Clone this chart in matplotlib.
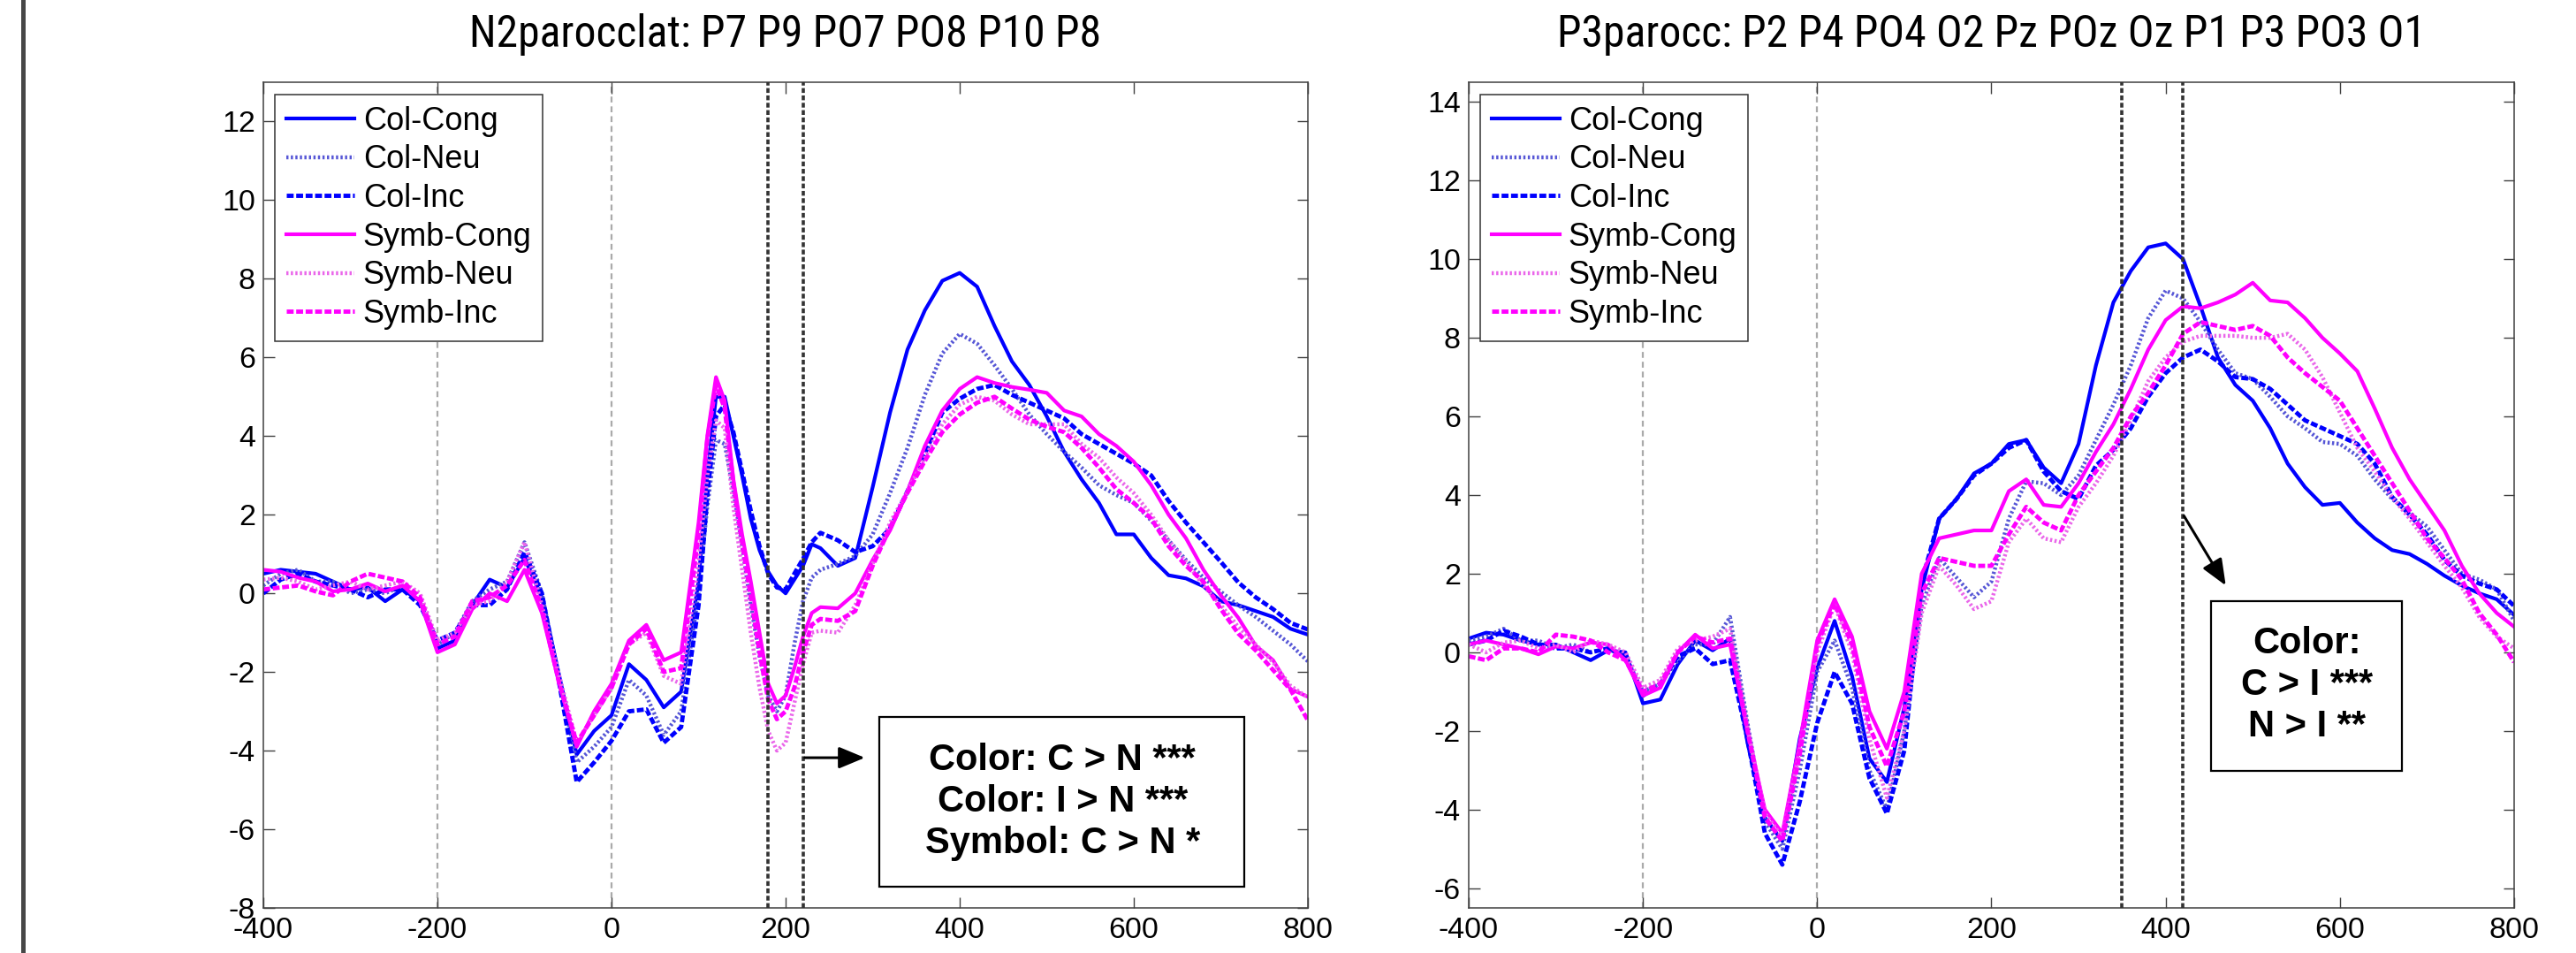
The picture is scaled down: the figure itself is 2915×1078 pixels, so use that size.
import matplotlib
matplotlib.use("Agg")
import matplotlib.pyplot as plt
from matplotlib import font_manager as fm
from matplotlib.font_manager import FontProperties
from matplotlib.lines import Line2D
from matplotlib.patches import Rectangle

plt.rcParams["font.family"] = ["Liberation Sans", "DejaVu Sans"]
plt.rcParams["axes.unicode_minus"] = False

# ----------------------------------------------------------------------
# data (ms, microvolts)
# ----------------------------------------------------------------------
LABELS = ["Col-Cong", "Col-Neu", "Col-Inc", "Symb-Cong", "Symb-Neu", "Symb-Inc"]

T1 = [-400, -380, -360, -340, -320, -300, -280, -260, -240, -220, -200, -180, -160,
      -140, -120, -100, -80, -60, -40, -20, 0, 20, 40, 60, 80, 100,
      110, 120, 130, 140, 150, 160, 170, 180, 190, 200, 210, 220, 230, 240,
      260, 280, 300, 320, 340, 360, 380, 400, 420, 440, 460, 480, 500, 520,
      540, 560, 580, 600, 620, 640, 660, 680, 700, 720, 740, 760, 780, 800]

p1_col_cong = [0.5, 0.6, 0.55, 0.5, 0.3, 0.1, 0.15, -0.2, 0.1, -0.2, -1.4, -1.2, -0.3,
               0.35, 0.15, 0.9, -0.1, -2.1, -4.1, -3.5, -3.1, -1.8, -2.2, -2.9, -2.5, 0.3,
               3.0, 5.0, 5.0, 4.0, 3.0, 1.9, 1.1, 0.55, 0.2, 0.0, 0.35, 0.7, 1.25, 1.15,
               0.7, 0.9, 2.7, 4.6, 6.2, 7.2, 7.95, 8.15, 7.8, 6.8, 5.9, 5.3, 4.5, 3.6,
               2.9, 2.3, 1.5, 1.5, 0.9, 0.46, 0.38, 0.18, -0.2, -0.3, -0.45, -0.6, -0.9, -1.05]
p1_col_neu = [0.2, 0.5, 0.6, 0.3, 0.3, 0.0, 0.1, 0.0, 0.2, -0.2, -1.3, -1.0, -0.2,
              0.1, 0.3, 1.3, 0.0, -2.2, -4.3, -3.9, -3.4, -2.2, -2.6, -3.6, -3.0, 0.0,
              2.2, 3.9, 3.8, 2.6, 1.2, -0.3, -1.6, -2.6, -3.0, -2.6, -1.3, -0.2, 0.4, 0.6,
              0.75, 0.95, 1.5, 2.55, 3.7, 5.05, 6.1, 6.6, 6.35, 5.8, 5.2, 4.55, 4.05, 3.6,
              3.2, 2.75, 2.5, 2.3, 1.85, 1.35, 0.85, 0.4, 0.04, -0.3, -0.6, -0.95, -1.3, -1.73]
p1_col_inc = [0.0, 0.35, 0.5, 0.3, 0.2, 0.1, -0.1, 0.1, 0.1, -0.3, -1.2, -1.0, -0.3,
              -0.3, 0.1, 1.05, 0.0, -2.3, -4.8, -4.3, -3.75, -3.0, -2.95, -3.8, -3.4, -0.3,
              2.5, 4.5, 4.8, 4.1, 3.1, 2.1, 1.2, 0.5, 0.15, 0.1, 0.5, 0.88, 1.3, 1.54,
              1.35, 1.05, 1.2, 1.65, 2.6, 3.55, 4.6, 4.95, 5.2, 5.3, 5.05, 4.85, 4.65, 4.45,
              4.05, 3.8, 3.55, 3.3, 3.0, 2.35, 1.8, 1.3, 0.8, 0.28, -0.1, -0.4, -0.75, -0.92]
p1_symb_cong = [0.6, 0.55, 0.4, 0.3, 0.05, 0.1, 0.25, 0.05, 0.2, -0.2, -1.5, -1.3, -0.4,
                0.0, -0.2, 0.6, -0.5, -2.3, -3.9, -3.0, -2.3, -1.2, -0.8, -1.7, -1.5, 1.8,
                4.0, 5.5, 4.9, 2.9, 1.5, 0.3, -1.0, -2.3, -2.8, -2.6, -1.9, -1.1, -0.5, -0.35,
                -0.38, 0.0, 0.85, 1.6, 2.6, 3.75, 4.65, 5.2, 5.5, 5.35, 5.25, 5.18, 5.1, 4.65,
                4.5, 4.05, 3.75, 3.35, 2.75, 2.0, 1.4, 0.6, -0.05, -0.62, -1.33, -1.7, -2.43, -2.63]
p1_symb_neu = [0.35, 0.4, 0.3, 0.1, 0.2, 0.3, 0.1, 0.2, 0.3, 0.0, -1.2, -1.0, -0.3,
               -0.2, 0.3, 1.3, -0.3, -2.1, -3.8, -3.1, -2.4, -1.3, -1.0, -2.1, -2.3, 0.8,
               3.0, 4.4, 4.2, 2.2, 0.6, -1.0, -2.4, -3.5, -4.0, -3.8, -2.8, -1.8, -1.0, -0.95,
               -1.0, -0.3, 0.75, 1.8, 2.6, 3.45, 4.3, 4.8, 5.0, 4.9, 4.55, 4.3, 4.3, 4.3,
               3.8, 3.45, 2.95, 2.55, 2.0, 1.35, 0.8, 0.2, -0.3, -0.85, -1.3, -1.75, -2.35, -2.65]
p1_symb_inc = [0.1, 0.15, 0.2, 0.05, -0.05, 0.3, 0.5, 0.4, 0.3, -0.1, -1.3, -1.1, -0.2,
               -0.1, 0.2, 0.85, -0.4, -2.3, -3.8, -3.1, -2.4, -1.3, -0.9, -2.0, -1.9, 1.5,
               3.9, 5.3, 4.7, 2.8, 1.3, -0.1, -1.5, -2.7, -3.2, -3.0, -2.4, -1.5, -0.8, -0.65,
               -0.7, -0.45, 0.7, 1.68, 2.56, 3.37, 4.1, 4.55, 4.85, 5.0, 4.7, 4.42, 4.24, 4.1,
               3.7, 3.2, 2.65, 2.3, 1.9, 1.2, 0.7, 0.3, -0.4, -1.02, -1.45, -1.95, -2.45, -3.23]

T2 = [-400, -380, -360, -340, -320, -300, -280, -260, -240, -220, -200, -180, -160,
      -140, -120, -100, -80, -60, -40, -20, 0, 20, 40, 60, 80, 100, 120, 140, 160,
      180, 200, 220, 240, 260, 280, 300, 320, 340, 360, 380, 400, 420, 440, 460,
      480, 500, 520, 540, 560, 580, 600, 620, 640, 660, 680, 700, 720, 740, 760,
      780, 800]

p2_col_cong = [0.35, 0.5, 0.45, 0.3, 0.2, 0.2, 0.0, -0.2, 0.05, 0.0, -1.3, -1.2, -0.3,
               0.3, 0.05, 0.35, -2.3, -4.2, -4.8, -2.2, -0.4, 0.8, -0.6, -2.7, -3.3, -1.4,
               1.6, 3.4, 3.9, 4.55, 4.8, 5.3, 5.4, 4.7, 4.3, 5.3, 7.3, 8.9, 9.7, 10.3,
               10.4, 10.0, 8.8, 7.5, 6.8, 6.4, 5.7, 4.8, 4.2, 3.75, 3.8, 3.3, 2.9, 2.6,
               2.5, 2.25, 1.95, 1.7, 1.5, 1.35, 0.95]
p2_col_neu = [0.3, 0.4, 0.6, 0.3, 0.3, 0.1, 0.2, 0.0, 0.1, -0.1, -1.0, -0.8, -0.2,
              0.2, 0.2, 0.9, -1.8, -4.3, -5.0, -3.0, -0.5, 0.3, -0.9, -3.0, -4.0, -2.0,
              1.2, 2.4, 1.9, 1.4, 1.8, 3.4, 4.35, 4.3, 4.0, 4.5, 5.4, 6.3, 7.3, 8.5,
              9.2, 9.0, 8.4, 7.7, 7.1, 6.95, 6.5, 6.0, 5.7, 5.35, 5.3, 5.0, 4.4, 3.9,
              3.55, 3.2, 2.6, 2.0, 1.85, 1.6, 0.8]
p2_col_inc = [0.2, 0.3, 0.55, 0.4, 0.2, 0.1, 0.1, 0.0, 0.1, -0.1, -1.1, -0.8, -0.1,
              0.1, -0.3, -0.2, -2.2, -4.6, -5.4, -3.8, -1.8, -0.5, -1.3, -3.2, -4.1, -2.5,
              1.8, 3.4, 3.9, 4.5, 4.8, 5.2, 5.4, 4.6, 4.1, 3.9, 4.75, 5.15, 5.7, 6.5,
              7.1, 7.5, 7.7, 7.4, 7.0, 6.95, 6.7, 6.3, 5.9, 5.7, 5.5, 5.3, 4.8, 3.95,
              3.5, 3.0, 2.35, 1.95, 1.75, 1.6, 1.18]
p2_symb_cong = [0.2, 0.3, 0.2, 0.1, -0.05, 0.15, 0.1, 0.25, 0.2, -0.2, -1.1, -0.9, 0.0,
                0.45, 0.1, 0.2, -2.0, -4.0, -4.6, -2.3, 0.3, 1.35, 0.4, -1.5, -2.45, -1.0,
                2.0, 2.9, 3.0, 3.1, 3.1, 4.1, 4.4, 3.75, 3.7, 4.3, 5.1, 5.8, 6.7, 7.7,
                8.45, 8.8, 8.75, 8.9, 9.1, 9.4, 8.95, 8.9, 8.5, 8.0, 7.6, 7.15, 6.2, 5.2,
                4.4, 3.75, 3.1, 2.2, 1.5, 1.0, 0.65]
p2_symb_neu = [0.2, 0.0, 0.25, 0.3, 0.1, 0.2, 0.0, 0.3, 0.2, 0.0, -0.9, -0.7, 0.1,
               0.3, 0.4, 0.6, -1.9, -4.1, -4.7, -2.5, 0.0, 1.2, 0.0, -2.2, -3.7, -2.0,
               1.0, 2.2, 1.7, 1.1, 1.3, 2.8, 3.4, 2.9, 2.8, 3.7, 4.3, 5.0, 5.9, 6.9,
               7.5, 7.9, 8.05, 8.05, 8.05, 8.0, 8.0, 8.1, 7.7, 7.0, 6.1, 5.2, 4.6, 3.95,
               3.4, 2.8, 2.2, 1.65, 0.9, 0.4, 0.1]
p2_symb_inc = [-0.1, -0.2, 0.1, 0.1, 0.0, 0.45, 0.4, 0.3, 0.0, -0.2, -1.0, -0.8, 0.0,
               0.4, 0.25, 0.35, -2.0, -4.2, -4.8, -2.6, 0.2, 1.25, 0.2, -1.9, -2.9, -1.5,
               1.5, 2.4, 2.3, 2.2, 2.2, 3.0, 3.7, 3.3, 3.1, 4.0, 4.6, 5.2, 6.0, 6.6,
               7.3, 8.1, 8.4, 8.3, 8.2, 8.3, 8.05, 7.5, 7.1, 6.75, 6.4, 5.7, 5.0, 4.3,
               3.6, 2.9, 2.4, 1.85, 1.0, 0.45, -0.25]

TITLES = ["N2parocclat: P7 P9 PO7 PO8 P10 P8",
          "P3parocc: P2 P4 PO4 O2 Pz POz Oz P1 P3 PO3 O1"]
WINDOWS = [(180, 220), (350, 420)]
NOTES = ["Color: C > N ***\nColor: I > N ***\nSymbol: C > N *",
         "Color:\nC > I ***\nN > I **"]
XTICKS = list(range(-400, 801, 200))
YTICKS = [list(range(-8, 13, 2)), list(range(-6, 15, 2))]
YLIMS = [(-8, 13), (-6.5, 14.5)]

# ----------------------------------------------------------------------
# styles
# ----------------------------------------------------------------------
STYLES = [
    dict(color="#0000FF", ls="-", lw=3.0),
    dict(color="#5656D6", ls=(0, (0.55, 0.6)), lw=3.2),
    dict(color="#0000FF", ls=(0, (1.6, 0.6)), lw=3.5),
    dict(color="#FF00FF", ls="-", lw=3.0),
    dict(color="#EA66EA", ls=(0, (0.55, 0.6)), lw=3.2),
    dict(color="#FF00FF", ls=(0, (1.6, 0.6)), lw=3.5),
]

# annotation layout in data coords: box (x0, x1, y0, y1), text centre, arrow
BOXES = [(308, 727, -7.46, -3.15), (452, 671, -3.01, 1.30)]
TEXT_POS = [(518, -5.30), (562, -0.84)]
ARROWS = [((222, -4.18), (291, -4.18)), ((421, 3.47), (469, 1.70))]
TITLE_WIDTH_PX = 984   # measured width of the right-hand title


def narrow_font():
    """Pick a Helvetica-Narrow-like face for the titles, if one is installed."""
    prefs = ["Liberation Sans Narrow", "Arial Narrow", "Nimbus Sans Narrow",
             "Roboto Condensed", "Archivo Narrow", "PT Sans Narrow",
             "Open Sans Condensed", "IBM Plex Sans Condensed", "Fira Sans Condensed",
             "Pragati Narrow"]
    names = {f.name for f in fm.fontManager.ttflist}
    for p in prefs:
        if p in names:
            return FontProperties(family=[p, "DejaVu Sans"], weight="normal")
    return FontProperties(family=["Liberation Sans", "DejaVu Sans"])


fig = plt.figure(figsize=(29.15, 10.78), dpi=100)
fig.add_artist(Line2D([26 / 2915, 26 / 2915], [0, 1], transform=fig.transFigure,
                      color="#474747", lw=3.6))

axes_rects = [[0.10223, 0.04731, 0.40549, 0.86642],
              [0.57015, 0.04731, 0.40583, 0.86642]]
panels = [(T1, [p1_col_cong, p1_col_neu, p1_col_inc, p1_symb_cong, p1_symb_neu, p1_symb_inc]),
          (T2, [p2_col_cong, p2_col_neu, p2_col_inc, p2_symb_cong, p2_symb_neu, p2_symb_inc])]

title_prop = narrow_font()
title_prop.set_size(35)
titles = []

for i, (t, series) in enumerate(panels):
    ax = fig.add_axes(axes_rects[i])

    for x in (-200, 0):
        ax.axvline(x, color="#AAAAAA", lw=1.6, ls=(0, (3, 2)), zorder=1)

    for label, ys, st in zip(LABELS, series, STYLES):
        ax.plot(t, ys, label=label, zorder=2, solid_joinstyle="round", **st)

    for x in WINDOWS[i]:
        ax.axvline(x, color="#333333", lw=2.6, ls=(0, (1.5, 0.8)), zorder=3)

    ax.set_xlim(-400, 800)
    ax.set_ylim(*YLIMS[i])
    ax.set_xticks(XTICKS)
    ax.set_yticks(YTICKS[i])
    ax.tick_params(direction="in", top=True, right=True, length=9, width=1.0,
                   labelsize=24.5, color="#404040")
    ax.tick_params(axis="x", pad=7.5)
    ax.tick_params(axis="y", pad=6.5)
    for sp in ax.spines.values():
        sp.set_linewidth(1.1)
        sp.set_color("#404040")

    titles.append(ax.set_title(TITLES[i], fontproperties=title_prop.copy(), pad=29))

    leg = ax.legend(loc="upper left", bbox_to_anchor=(13 / 1182, 1 - 14 / 934),
                    borderaxespad=0, fontsize=26, handlelength=2.13,
                    handletextpad=0.28, labelspacing=0.24, borderpad=0.35,
                    fancybox=False, edgecolor="#333333", framealpha=1)
    leg.get_frame().set_linewidth(1.1)
    leg.set_zorder(6)

    x0, x1, y0, y1 = BOXES[i]
    ax.add_patch(Rectangle((x0, y0), x1 - x0, y1 - y0, facecolor="white",
                           edgecolor="black", lw=1.6, zorder=5))
    ax.text(*TEXT_POS[i], NOTES[i], ha="center", va="center", fontsize=30,
            fontweight="bold", linespacing=1.23, zorder=6)

    start, end = ARROWS[i]
    ax.annotate("", xy=end, xytext=start,
                arrowprops=dict(arrowstyle="-|>,head_length=0.6,head_width=0.25",
                                color="black", lw=2.2, mutation_scale=30,
                                shrinkA=0, shrinkB=0),
                zorder=6)

# fit the title size so the right-hand title has the measured width
fig.canvas.draw()
w = titles[1].get_window_extent().width
size = 35 * TITLE_WIDTH_PX / w
for tt in titles:
    tt.set_fontsize(min(size, 37))

fig.savefig("out.png", dpi=100)
